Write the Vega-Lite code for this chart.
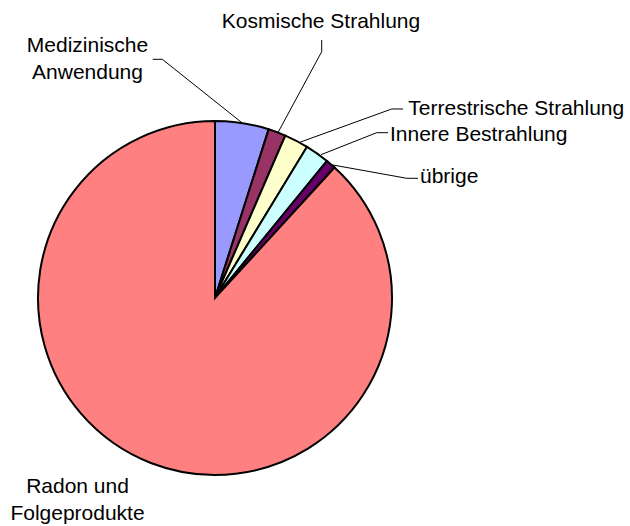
{
  "$schema": "https://vega.github.io/schema/vega-lite/v6.json",
  "width": 354,
  "height": 354,
  "autosize": {"type": "none"},
  "padding": {"left": 38, "top": 121, "right": 238, "bottom": 51},
  "background": "white",
  "config": {"view": {"stroke": null}, "text": {"font": "Liberation Sans", "fontSize": 21, "color": "black", "lineBreak": "\n", "lineHeight": 27}},
  "data": {"values": [
    {"category": "Medizinische Anwendung", "label": "Medizinische\nAnwendung", "percent": 4.9, "rank": 1},
    {"category": "Kosmische Strahlung", "label": "Kosmische Strahlung", "percent": 1.6, "rank": 2},
    {"category": "Terrestrische Strahlung", "label": "Terrestrische Strahlung", "percent": 2.2, "rank": 3},
    {"category": "Innere Bestrahlung", "label": "Innere Bestrahlung", "percent": 2.2, "rank": 4},
    {"category": "übrige", "label": "übrige", "percent": 0.9, "rank": 5},
    {"category": "Radon und Folgeprodukte", "label": "Radon und\nFolgeprodukte", "percent": 88.2, "rank": 6}
  ]},
  "layer": [
    {
      "mark": {"type": "arc", "outerRadius": 177, "stroke": "black", "strokeWidth": 2},
      "encoding": {
        "theta": {"field": "percent", "type": "quantitative", "stack": true},
        "order": {"field": "rank", "type": "quantitative"},
        "color": {"field": "category", "type": "nominal", "legend": null,
          "scale": {"domain": ["Medizinische Anwendung", "Kosmische Strahlung", "Terrestrische Strahlung", "Innere Bestrahlung", "übrige", "Radon und Folgeprodukte"],
                    "range": ["#9999FF", "#993366", "#FFFFCC", "#CCFFFF", "#660066", "#FF8080"]}}
      }
    },
    {
      "transform": [{"filter": "datum.category === 'Medizinische Anwendung'"}],
      "layer": [
        {"mark": {"type": "text", "align": "center", "baseline": "alphabetic"},
         "encoding": {
           "x": {"datum": -0.7203, "type": "quantitative", "scale": {"domain": [-1, 1], "nice": false, "zero": false}, "axis": null},
           "y": {"datum": 1.388, "type": "quantitative", "scale": {"domain": [-1, 1], "nice": false, "zero": false}, "axis": null},
           "text": {"field": "label"}}},
        {"mark": {"type": "rule", "color": "black", "strokeWidth": 1},
         "encoding": {
           "x": {"datum": 0.155, "type": "quantitative", "axis": null},
           "y": {"datum": 0.988, "type": "quantitative", "axis": null},
           "x2": {"datum": -0.2977}, "y2": {"datum": 1.3486}}},
        {"mark": {"type": "rule", "color": "black", "strokeWidth": 1},
         "encoding": {
           "x": {"datum": -0.2977, "type": "quantitative", "axis": null},
           "y": {"datum": 1.3486, "type": "quantitative", "axis": null},
           "x2": {"datum": -0.352}, "y2": {"datum": 1.3486}}}
      ]
    },
    {
      "transform": [{"filter": "datum.category === 'Kosmische Strahlung'"}],
      "layer": [
        {"mark": {"type": "text", "align": "center", "baseline": "alphabetic"},
         "encoding": {
           "x": {"datum": 0.5989, "type": "quantitative", "scale": {"domain": [-1, 1], "nice": false, "zero": false}, "axis": null},
           "y": {"datum": 1.5237, "type": "quantitative", "scale": {"domain": [-1, 1], "nice": false, "zero": false}, "axis": null},
           "text": {"field": "label"}}},
        {"mark": {"type": "rule", "color": "black", "strokeWidth": 1},
         "encoding": {
           "x": {"datum": 0.356, "type": "quantitative", "axis": null},
           "y": {"datum": 0.935, "type": "quantitative", "axis": null},
           "x2": {"datum": 0.6028}, "y2": {"datum": 1.3915}}},
        {"mark": {"type": "rule", "color": "black", "strokeWidth": 1},
         "encoding": {
           "x": {"datum": 0.6028, "type": "quantitative", "axis": null},
           "y": {"datum": 1.3915, "type": "quantitative", "axis": null},
           "x2": {"datum": 0.6028}, "y2": {"datum": 1.4576}}}
      ]
    },
    {
      "transform": [{"filter": "datum.category === 'Terrestrische Strahlung'"}],
      "layer": [
        {"mark": {"type": "text", "align": "left", "baseline": "alphabetic"},
         "encoding": {
           "x": {"datum": 1.0921, "type": "quantitative", "scale": {"domain": [-1, 1], "nice": false, "zero": false}, "axis": null},
           "y": {"datum": 1.0339, "type": "quantitative", "scale": {"domain": [-1, 1], "nice": false, "zero": false}, "axis": null},
           "text": {"field": "label"}}},
        {"mark": {"type": "rule", "color": "black", "strokeWidth": 1},
         "encoding": {
           "x": {"datum": 0.48, "type": "quantitative", "axis": null},
           "y": {"datum": 0.88, "type": "quantitative", "axis": null},
           "x2": {"datum": 0.9983}, "y2": {"datum": 1.0678}}},
        {"mark": {"type": "rule", "color": "black", "strokeWidth": 1},
         "encoding": {
           "x": {"datum": 0.9983, "type": "quantitative", "axis": null},
           "y": {"datum": 1.0678, "type": "quantitative", "axis": null},
           "x2": {"datum": 1.0621}, "y2": {"datum": 1.0678}}}
      ]
    },
    {
      "transform": [{"filter": "datum.category === 'Innere Bestrahlung'"}],
      "layer": [
        {"mark": {"type": "text", "align": "left", "baseline": "alphabetic"},
         "encoding": {
           "x": {"datum": 0.9887, "type": "quantitative", "scale": {"domain": [-1, 1], "nice": false, "zero": false}, "axis": null},
           "y": {"datum": 0.8887, "type": "quantitative", "scale": {"domain": [-1, 1], "nice": false, "zero": false}, "axis": null},
           "text": {"field": "label"}}},
        {"mark": {"type": "rule", "color": "black", "strokeWidth": 1},
         "encoding": {
           "x": {"datum": 0.6, "type": "quantitative", "axis": null},
           "y": {"datum": 0.81, "type": "quantitative", "axis": null},
           "x2": {"datum": 0.9136}, "y2": {"datum": 0.9339}}},
        {"mark": {"type": "rule", "color": "black", "strokeWidth": 1},
         "encoding": {
           "x": {"datum": 0.9136, "type": "quantitative", "axis": null},
           "y": {"datum": 0.9339, "type": "quantitative", "axis": null},
           "x2": {"datum": 0.9774}, "y2": {"datum": 0.9339}}}
      ]
    },
    {
      "transform": [{"filter": "datum.category === 'übrige'"}],
      "layer": [
        {"mark": {"type": "text", "align": "left", "baseline": "alphabetic"},
         "encoding": {
           "x": {"datum": 1.1582, "type": "quantitative", "scale": {"domain": [-1, 1], "nice": false, "zero": false}, "axis": null},
           "y": {"datum": 0.6497, "type": "quantitative", "scale": {"domain": [-1, 1], "nice": false, "zero": false}, "axis": null},
           "text": {"field": "label"}}},
        {"mark": {"type": "rule", "color": "black", "strokeWidth": 1},
         "encoding": {
           "x": {"datum": 0.663, "type": "quantitative", "axis": null},
           "y": {"datum": 0.752, "type": "quantitative", "axis": null},
           "x2": {"datum": 1.083}, "y2": {"datum": 0.6763}}},
        {"mark": {"type": "rule", "color": "black", "strokeWidth": 1},
         "encoding": {
           "x": {"datum": 1.083, "type": "quantitative", "axis": null},
           "y": {"datum": 0.6763, "type": "quantitative", "axis": null},
           "x2": {"datum": 1.1469}, "y2": {"datum": 0.6763}}}
      ]
    },
    {
      "transform": [{"filter": "datum.category === 'Radon und Folgeprodukte'"}],
      "mark": {"type": "text", "align": "center", "baseline": "alphabetic"},
      "encoding": {
        "x": {"datum": -0.7768, "type": "quantitative", "scale": {"domain": [-1, 1], "nice": false, "zero": false}, "axis": null},
        "y": {"datum": -1.1034, "type": "quantitative", "scale": {"domain": [-1, 1], "nice": false, "zero": false}, "axis": null},
        "text": {"field": "label"}}
    }
  ]
}
